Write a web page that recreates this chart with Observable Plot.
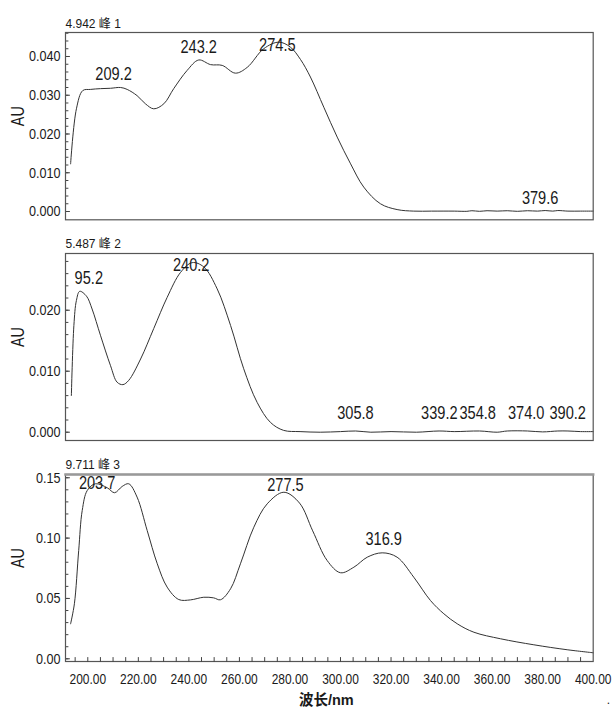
<!DOCTYPE html>
<html><head><meta charset="utf-8">
<script src="https://cdn.jsdelivr.net/npm/d3@7"></script>
<script src="https://cdn.jsdelivr.net/npm/@observablehq/plot@0.6"></script>
<style>
body{margin:0;background:#fff;}
#chart{width:613px;height:709px;}
#chart svg{display:block;}
</style></head><body><div id="chart"></div>
<script>
// ---------- data ----------
const xDomain = [191.18, 400];
const xTicks = [200, 220, 240, 260, 280, 300, 320, 340, 360, 380, 400];
const xTitle = "波长/nm";

const title1 = "4.942 峰 1";
const wl1 = [193.2,195.5,198,201,205,209,213,215.6,219.5,222.8,226.1,230.1,234,239.3,243.9,248.6,253.2,258.4,263.1,269.6,275.6,280.2,284.2,288.1,293.4,298.7,304,309.2,315.8,322.4,329,336,345,350,352,355,358,362,366,370,374,378,381,384,386,390,395,400];
const au1 = [0.0123,0.0265,0.0312,0.0315,0.0317,0.0318,0.0320,0.0315,0.0299,0.0278,0.0265,0.0278,0.0317,0.0364,0.0391,0.0379,0.0377,0.0357,0.0372,0.0420,0.0437,0.0424,0.0392,0.0347,0.0269,0.0192,0.0123,0.0063,0.0020,0.0005,0.0001,0.0001,0.0001,0.00005,0.0002,0.00005,0.0002,0.0001,0.0002,0.00005,0.0002,0.0001,0.00025,0.0001,0.00025,0.0001,0.0001,0.0001];
const labels1 = ["209.2","243.2","274.5","379.6"];
const labelX1 = [210.2, 243.9, 275.0, 379.0];
const labelY1 = [0.03535, 0.04240, 0.04284, 0.00353];
const yTicks1 = [0, 0.01, 0.02, 0.03, 0.04];

const title2 = "5.487 峰 2";
const wl2 = [193.5,194.5,195.5,196.8,199.5,201.7,205,209,211.6,213.9,216.2,220.9,226.1,231.4,236.7,241.3,245.9,251.2,256.5,261.7,267,272.3,277.5,284,292,300,306,312,320,330,339,345,355,362,366,374,380,386,390,395,400];
const au2 = [0.0060,0.0175,0.0216,0.0231,0.0223,0.0202,0.0159,0.0109,0.0082,0.0078,0.0085,0.0120,0.0170,0.0221,0.0262,0.0278,0.0271,0.0235,0.0175,0.0104,0.0049,0.0016,0.0003,0.0001,0.0000,0.0001,0.0002,0.0000,0.0001,0.0000,0.0002,0.0001,0.0002,0.0000,0.0002,0.0002,0.00005,0.0002,0.0002,0.0001,0.0001];
const labels2 = ["95.2","240.2","305.8","339.2","354.8","374.0","390.2"];
const labelX2 = [200.4, 240.9, 305.9, 339.1, 354.3, 373.5, 389.9];
const labelY2 = [0.0252, 0.02733, 0.00311, 0.00311, 0.00311, 0.00311, 0.00311];
const yTicks2 = [0, 0.01, 0.02];

const title3 = "9.711 峰 3";
const wl3 = [193.2,194.7,196.4,197.8,199.8,203,207.7,210.6,213.6,216.2,219.5,223.5,227.5,231.4,236,240.6,245.9,249.8,252.5,256.5,260.4,265.7,271,277.6,283.8,289,294.7,300,305.3,310.6,316.5,322.4,329,335.6,340.9,346.2,352.8,363.3,376.5,389.7,400];
const au3 = [0.029,0.0456,0.0897,0.1229,0.1395,0.1450,0.1417,0.1376,0.1428,0.1450,0.1340,0.1063,0.0787,0.0594,0.0491,0.0488,0.0510,0.0505,0.0489,0.0580,0.0787,0.1090,0.1284,0.1380,0.1290,0.1060,0.0815,0.0713,0.0759,0.0842,0.0878,0.0842,0.0676,0.0483,0.0373,0.0290,0.0220,0.0166,0.0116,0.0075,0.0050];
const labels3 = ["203.7","277.5","316.9"];
const labelX3 = [203.7, 278.2, 317.1];
const labelY3 = [0.1450, 0.1436, 0.0994];
const yTicks3 = [0, 0.05, 0.10, 0.15];

// ---------- fonts ----------
// COND texts are drawn tall and then squeezed horizontally (the source uses a condensed face)
const COND = "'Liberation Sans', Arial, sans-serif";
const REG = "'Liberation Sans', Arial, 'Noto Sans CJK SC', sans-serif";
const SQUEEZE = 0.82;
const S = {tick:15.4, xtick:14.6, label:17.8, au:17.5};

const tickShape = {draw(ctx, l){ ctx.moveTo(0,0); ctx.lineTo(0,-l); }};

function panel(o){
  const data = o.wl.map((w,i)=>({w, a:o.au[i]}));
  const labs = o.labels.map((t,i)=>({t, x:o.labelX[i], y:o.labelY[i]}));
  const marks = [
    Plot.line(data, {x:"w", y:"a", stroke:"#333", strokeWidth:1, curve:"catmull-rom"}),
    Plot.text(labs, {x:"x", y:"y", text:"t", fontSize:S.label, fontFamily:COND, fill:"#1a1a1a", lineAnchor:"middle"}),
    Plot.axisY({ticks:o.yTicks, tickFormat:d3.format(o.yFmt), tickSize:0, tickPadding:5, fontSize:S.tick, fontFamily:COND, label:null, fill:"#1a1a1a"}),
    Plot.vector(o.yMinor, {y:d=>d, frameAnchor:"left", length:2.5, rotate:90, anchor:"start", shape:tickShape, stroke:"#444", strokeWidth:1}),
    Plot.vector(o.yTicks, {y:d=>d, frameAnchor:"left", length:4, rotate:90, anchor:"start", shape:tickShape, stroke:"#444", strokeWidth:1}),
    Plot.text([o.title], {frameAnchor:"top-left", textAnchor:"start", lineAnchor:"middle", dy:o.titleDy, fontSize:12, fontFamily:REG, fill:"#1a1a1a"}),
    Plot.text(["AU"], {frameAnchor:"left", rotate:-90, dx:-47, fontSize:S.au, fontFamily:COND, fill:"#1a1a1a"}),
    Plot.frame({stroke:"#555", strokeWidth:1.2})
  ];
  if (o.topThick) marks.push(Plot.frame({anchor:"top", stroke:"#999", strokeWidth:2.5}));
  if (o.showX) {
    marks.push(
      Plot.axisX({ticks:xTicks, tickFormat:d3.format(".2f"), tickSize:0, tickPadding:17 - 0.36*S.xtick, fontSize:S.xtick, fontFamily:COND, label:null, fill:"#1a1a1a"}),
      Plot.vector(d3.range(195, 400, 5), {x:d=>d, frameAnchor:"bottom", length:4, rotate:0, anchor:"start", shape:tickShape, stroke:"#444", strokeWidth:1}),
      Plot.text([xTitle], {frameAnchor:"bottom", dx:-3, dy:39, lineAnchor:"middle", fontSize:14.5, fontWeight:"bold", fontFamily:REG, fill:"#1a1a1a"}),
      Plot.text(["."], {frameAnchor:"bottom-right", dx:17, dy:42, fontSize:12, fontFamily:REG, fill:"#1a1a1a"})
    );
  }
  return Plot.plot({
    width:613, height:o.height,
    marginLeft:65, marginRight:20.3, marginTop:o.marginTop, marginBottom:o.marginBottom,
    x:{domain:xDomain, axis:null},
    y:{domain:o.yDomain, axis:null},
    style:{fontFamily:REG, background:"white", overflow:"visible", color:"#1a1a1a"},
    marks
  });
}

const chart = document.getElementById("chart");
chart.append(panel({
  wl:wl1, au:au1, labels:labels1, labelX:labelX1, labelY:labelY1,
  yTicks:yTicks1, yMinor:d3.range(0,24).map(i=>i*0.002), yFmt:".3f",
  yDomain:[-0.00214, 0.04619], title:title1, titleDy:-8,
  height:225, marginTop:32, marginBottom:5.7
}));
chart.append(panel({
  wl:wl2, au:au2, labels:labels2, labelX:labelX2, labelY:labelY2,
  yTicks:yTicks2, yMinor:d3.range(0,15).map(i=>i*0.002), yFmt:".3f",
  yDomain:[-0.00136, 0.0293], title:title2, titleDy:-9.7,
  height:225, marginTop:28, marginBottom:10
}));
chart.append(panel({
  wl:wl3, au:au3, labels:labels3, labelX:labelX3, labelY:labelY3,
  yTicks:yTicks3, yMinor:d3.range(0,16).map(i=>i*0.01), yFmt:".2f",
  yDomain:[-0.00224, 0.1527], title:title3, titleDy:-9, topThick:true, showX:true,
  height:259, marginTop:24, marginBottom:48
}));

// squeeze condensed texts horizontally
chart.querySelectorAll("g").forEach(g => {
  if (g.getAttribute("font-family") !== COND) return;
  g.querySelectorAll("text").forEach(t => {
    const w = t.getComputedTextLength();
    if (w > 0) {
      t.setAttribute("textLength", (w * SQUEEZE).toFixed(2));
      t.setAttribute("lengthAdjust", "spacingAndGlyphs");
    }
  });
});
</script></body></html>
